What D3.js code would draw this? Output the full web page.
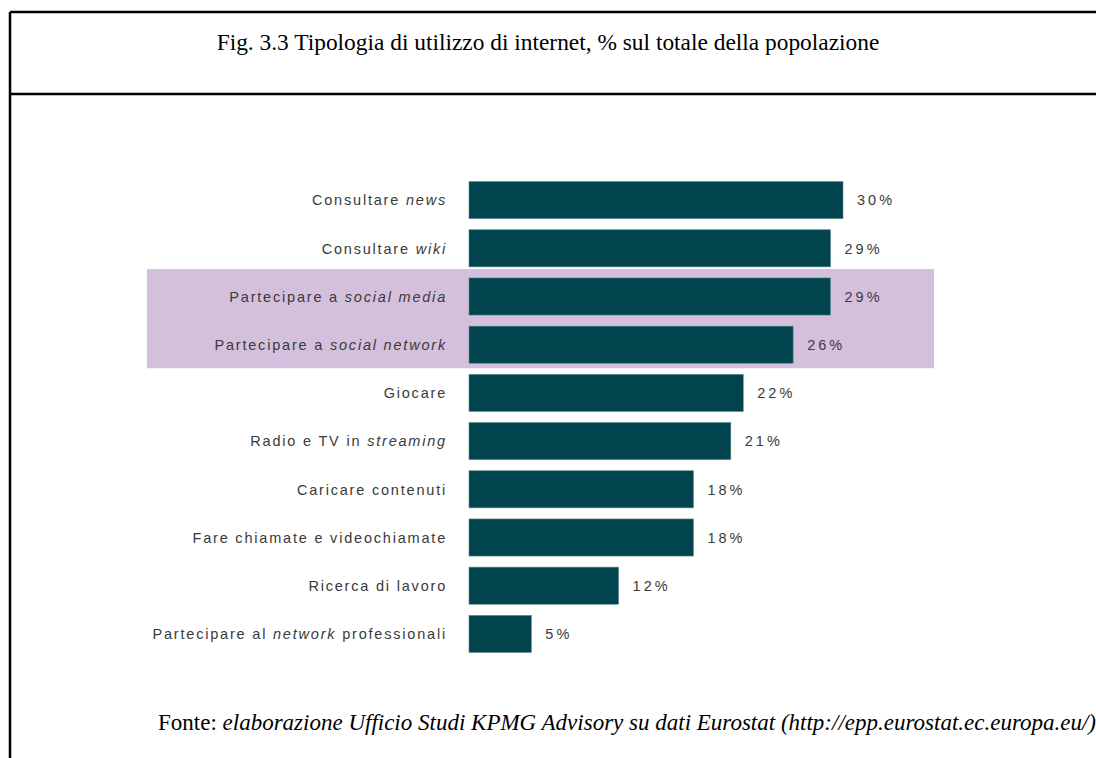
<!DOCTYPE html>
<html>
<head>
<meta charset="utf-8">
<script src="https://cdn.jsdelivr.net/npm/d3@7"></script>
<style>
  html, body { margin: 0; padding: 0; background: #fff; }
  svg { display: block; }
</style>
</head>
<body>
<svg id="chart" width="1096" height="758"></svg>
<script>
// Category labels: plain and italic parts of each label
const categories = [
  [["Consultare ", false], ["news", true]],
  [["Consultare ", false], ["wiki", true]],
  [["Partecipare a ", false], ["social media", true]],
  [["Partecipare a ", false], ["social network", true]],
  [["Giocare", false]],
  [["Radio e TV in ", false], ["streaming", true]],
  [["Caricare contenuti", false]],
  [["Fare chiamate e videochiamate", false]],
  [["Ricerca di lavoro", false]],
  [["Partecipare al ", false], ["network", true], [" professionali", false]]
];
const values = [30, 29, 29, 26, 22, 21, 18, 18, 12, 5];
const highlighted = [2, 3];

const titleText = "Fig. 3.3 Tipologia di utilizzo di internet, % sul totale della popolazione";
const sourceLabel = "Fonte: ";
const sourceText = "elaborazione Ufficio Studi KPMG Advisory su dati Eurostat (http://epp.eurostat.ec.europa.eu/)";

const svg = d3.select("#chart");

// Frame around the figure
const frame = svg.append("g").attr("stroke", "#000").attr("stroke-width", 2.5).attr("fill", "none");
frame.append("line").attr("x1", 10).attr("x2", 10).attr("y1", 12).attr("y2", 758);
frame.append("line").attr("x1", 10).attr("x2", 1096).attr("y1", 12).attr("y2", 12);
frame.append("line").attr("x1", 10).attr("x2", 1096).attr("y1", 94).attr("y2", 94);

const serif = "'Liberation Serif', 'Times New Roman', serif";

svg.append("text")
  .attr("x", 548).attr("y", 50)
  .attr("text-anchor", "middle")
  .attr("font-family", serif)
  .attr("font-size", 23.4)
  .attr("fill", "#000")
  .text(titleText);

const idx = d3.range(values.length);
const y = d3.scaleBand().domain(idx).range([176, 658]).paddingInner(0.23).paddingOuter(0.115);
const x = d3.scaleLinear().domain([0, 30]).range([469, 843]);

// Highlight band behind the social rows
const hFirst = d3.min(highlighted), hLast = d3.max(highlighted);
const gap = y.step() - y.bandwidth();
const hTop = y(hFirst) - gap * 0.8;
const hBottom = y(hLast) + y.bandwidth() + gap * 0.45;
svg.append("rect")
  .attr("x", 147).attr("width", 934 - 147)
  .attr("y", hTop)
  .attr("height", hBottom - hTop)
  .attr("fill", "#d4c0dc");

svg.append("g").selectAll("rect")
  .data(idx)
  .join("rect")
  .attr("x", x(0))
  .attr("y", i => y(i))
  .attr("width", i => x(values[i]) - x(0))
  .attr("height", y.bandwidth())
  .attr("fill", "#02444e")
  .attr("stroke", "#5d8a90")
  .attr("stroke-width", 0.6);

const labelFont = "'Liberation Sans', Arial, sans-serif";

const labels = svg.append("g").selectAll("text")
  .data(idx)
  .join("text")
  .attr("x", 447)
  .attr("y", i => y(i) + y.bandwidth() / 2)
  .attr("dy", "0.36em")
  .attr("text-anchor", "end")
  .attr("font-family", labelFont)
  .attr("font-size", 14.5)
  .attr("letter-spacing", 1.8)
  .attr("fill", "#3a3a3a");
labels.selectAll("tspan")
  .data(i => categories[i])
  .join("tspan")
  .attr("font-style", d => d[1] ? "italic" : "normal")
  .text(d => d[0]);

svg.append("g").selectAll("text")
  .data(idx)
  .join("text")
  .attr("x", i => x(values[i]) + 14)
  .attr("y", i => y(i) + y.bandwidth() / 2)
  .attr("dy", "0.36em")
  .attr("font-family", labelFont)
  .attr("font-size", 14.5)
  .attr("letter-spacing", 3)
  .attr("fill", "#3a3a3a")
  .text(i => values[i] + "%");

const src = svg.append("text")
  .attr("x", 158).attr("y", 730)
  .attr("font-family", serif)
  .attr("font-size", 23)
  .attr("fill", "#000");
src.append("tspan").text(sourceLabel);
src.append("tspan").attr("font-style", "italic").text(sourceText);
</script>
</body>
</html>
